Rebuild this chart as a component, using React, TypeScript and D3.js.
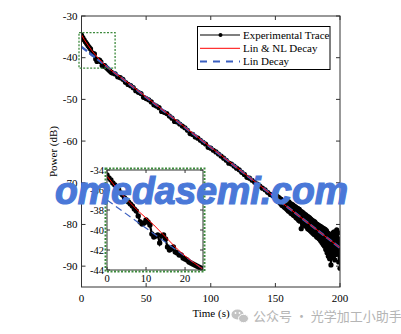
import React from "react";
import * as d3 from "d3";

// ---------- data ----------
const xTicks = [0, 50, 100, 150, 200];
const yTicks = [-30, -40, -50, -60, -70, -80, -90];
const insetXTicks = [0, 10, 20];
const insetYTicks = [-34, -36, -38, -40, -42, -44];
const legendLabels = ["Experimental Trace", "Lin & NL Decay", "Lin Decay"];

const tracePoints: [number, number][] = [
  [0, -34.6], [1, -35.2], [2, -35.7], [3, -36.2], [4, -36.6], [5, -37.1], [6, -37.5], [7, -37.9],
  [8, -38.8], [9, -39.1], [10, -39.1], [11, -40.3], [12, -40.9], [13, -40.5], [14, -40.6], [15, -41.0],
  [16, -41.9], [17, -42.0], [18, -41.9], [19, -42.3], [20, -42.6], [21, -42.9], [22, -43.2], [23, -43.5],
  [24, -43.7], [26, -43.9], [28, -44.6], [30, -44.8], [32, -45.2], [34, -45.9], [36, -46.4], [38, -46.7],
  [40, -47.2], [42, -47.9], [44, -48.3], [46, -48.6], [48, -49.5], [50, -49.8], [52, -50.1], [54, -50.6],
  [56, -51.3], [58, -51.6], [60, -52.0], [62, -52.9], [64, -53.1], [66, -53.4], [68, -54.0], [70, -54.5],
  [72, -55.3], [74, -55.4], [76, -55.9], [78, -56.4], [80, -56.8], [82, -57.4], [84, -58.2], [86, -58.4],
  [88, -59.0], [90, -59.3], [92, -59.8], [94, -60.3], [96, -60.7], [98, -61.5], [100, -61.7], [102, -62.2],
  [104, -62.6], [106, -63.1], [108, -63.6], [110, -64.1], [112, -64.6], [114, -65.3], [116, -65.5], [118, -66.0],
  [120, -66.5], [122, -66.9], [124, -67.5], [126, -68.0], [128, -68.7], [130, -68.9], [132, -69.4], [134, -69.9],
  [136, -70.3], [138, -70.8], [140, -71.3], [142, -71.7], [144, -72.3], [146, -72.8], [148, -73.1], [150, -73.7],
  [150.5, -73.0], [151, -74.2], [151.5, -73.3], [152, -74.5], [152.5, -73.5], [153, -74.6], [153.5, -73.8],
  [154, -75.0], [154.5, -74.0], [155, -75.4], [155.5, -74.2], [156, -75.6], [156.5, -74.4], [157, -75.9],
  [157.5, -74.7], [158, -76.1], [158.5, -74.9], [159, -76.4], [159.5, -75.1],
  [160, -76.8], [160.5, -74.6], [161, -76.9], [161.5, -75.0], [162, -77.3], [162.5, -75.1], [163, -77.5],
  [163.5, -75.3], [164, -77.8], [164.5, -75.6], [165, -78.0], [165.5, -75.8], [166, -78.4], [166.5, -76.0],
  [167, -78.6], [167.5, -76.2], [168, -79.0], [168.5, -76.4], [169, -79.2], [169.5, -76.8], [170, -81.0],
  [170.5, -77.0], [171, -79.6], [171.5, -77.2], [172, -80.0], [172.5, -77.5], [173, -80.3], [173.5, -77.7],
  [174, -80.5], [174.5, -78.0], [175, -81.0], [175.5, -78.2], [176, -81.2], [176.5, -78.4], [177, -81.5],
  [177.5, -78.7], [178, -81.8], [178.5, -79.0], [179, -82.1], [179.5, -79.2], [180, -82.4], [180.5, -79.4],
  [181, -82.6], [181.5, -79.8], [182, -83.0], [182.5, -80.0], [183, -83.2], [183.5, -80.2], [184, -83.5],
  [184.5, -80.4], [185, -83.9], [185.5, -80.6], [186, -84.3], [186.5, -80.8], [187, -84.8], [187.5, -81.0],
  [188, -85.2], [188.5, -81.2], [189, -86.0], [189.5, -81.5], [190, -86.8], [190.5, -82.0], [191, -87.6],
  [191.5, -82.3], [192, -88.2], [192.5, -83.0], [193, -89.7], [193.5, -82.6], [194, -88.0], [194.5, -82.0],
  [195, -87.0], [195.5, -81.8], [196, -88.5], [196.5, -82.5], [197, -87.2], [197.5, -81.3], [198, -86.5],
  [198.5, -82.0], [199, -89.0], [199.5, -83.5], [200, -90.5],
];

const linNlPoints: [number, number][] = [
  [0, -34.5], [2, -35.6], [5, -37.0], [8, -38.3], [12, -39.8], [16, -41.1], [20, -42.3], [25, -43.5],
  [30, -44.6], [40, -47.0], [200, -85.6],
];

const linPoints: [number, number][] = [
  [0, -37.4], [200, -85.6],
];

const insetTracePoints: [number, number][] = [
  [0, -34.5], [0.5, -34.8], [1, -35.0], [1.5, -35.3], [2, -35.5], [2.5, -35.8], [3, -36.0], [3.5, -36.3],
  [4, -36.5], [4.5, -36.8], [5, -37.0], [5.5, -37.2], [6, -37.4], [6.5, -37.6], [7, -37.9], [7.5, -38.1],
  [8, -38.6], [8.5, -39.2], [9, -39.4], [9.5, -39.3], [10, -39.0], [10.5, -39.2], [11, -39.5], [11.5, -40.4],
  [12, -40.7], [12.5, -40.6], [13, -40.5], [13.5, -41.3], [14, -40.6], [14.5, -40.5], [15, -40.9], [15.5, -41.7],
  [16, -42.0], [16.5, -41.9], [17, -41.7], [17.5, -42.2], [18, -42.3], [18.5, -42.5], [19, -42.5], [19.5, -42.8],
  [20, -42.9], [20.5, -43.0], [21, -43.2], [21.5, -43.3], [22, -43.4], [22.5, -43.5], [23, -43.6], [23.5, -43.7],
  [24, -43.8], [24.5, -43.9],
];

const insetLinNlPoints: [number, number][] = [
  [0, -34.6], [2, -35.6], [4, -36.5], [6, -37.3], [8, -38.1], [10, -38.8], [12, -39.5], [14, -40.3],
  [16, -41.1], [18, -41.9], [20, -42.6], [22, -43.2], [24.5, -43.9],
];

const insetLinPoints: [number, number][] = [
  [0, -37.0], [24.5, -43.9],
];

// ---------- component ----------
const SERIF = "'Liberation Serif', 'Times New Roman', serif";

export default function App() {
  const W = 401, H = 334;
  const x = d3.scaleLinear().domain([0, 200]).range([81.5, 340]);
  const y = d3.scaleLinear().domain([-30, -95]).range([16, 287]);

  const ix = d3.scaleLinear().domain([0, 24.6]).range([107, 203]);
  const iy = d3.scaleLinear().domain([-34, -44]).range([170, 270]);

  const line = d3.line<[number, number]>().x((d) => x(d[0])).y((d) => y(d[1]));
  const iline = d3.line<[number, number]>().x((d) => ix(d[0])).y((d) => iy(d[1]));

  const [x0, x1] = x.range();
  const [y0, y1] = y.range();
  const [ix0, ix1] = ix.range();
  const [iy0, iy1] = iy.range();

  const zoomBox = {
    xa: x(0) - 2.5, xb: x(26), ya: y(-34), yb: y(-42.5),
  };

  return (
    <svg width={W} height={H} style={{ position: "absolute", left: 0, top: 0, background: "#fff" }}>
      <rect x={0} y={0} width={W} height={H} fill="#fff" />
      <defs>
        <clipPath id="mainClip">
          <rect x={x0} y={y0} width={x1 - x0} height={y1 - y0} />
        </clipPath>
        <clipPath id="insetClip">
          <rect x={ix0} y={iy0} width={ix1 - ix0} height={iy1 - iy0} />
        </clipPath>
      </defs>

      {/* main series */}
      <g clipPath="url(#mainClip)">
        <path d={line(tracePoints) || ""} fill="none" stroke="#000" strokeWidth={2} />
        {tracePoints.map((d, i) => (
          <circle key={i} cx={x(d[0])} cy={y(d[1])} r={2.6} fill="#000" />
        ))}
        <path d={line(linPoints) || ""} fill="none" stroke="#3b5fc0" strokeWidth={2.4} strokeDasharray="7,3" />
        <path d={line(linNlPoints) || ""} fill="none" stroke="#ff0000" strokeWidth={1} />
      </g>

      {/* main frame */}
      <rect x={x0} y={y0} width={x1 - x0} height={y1 - y0} fill="none" stroke="#333" strokeWidth={1} />
      {xTicks.map((t) => (
        <g key={"xt" + t}>
          <line x1={x(t)} x2={x(t)} y1={y1} y2={y1 - 4} stroke="#333" />
          <line x1={x(t)} x2={x(t)} y1={y0} y2={y0 + 4} stroke="#333" />
          <text x={x(t)} y={y1 + 15} textAnchor="middle" fontFamily={SERIF} fontSize={11} fill="#000">{t}</text>
        </g>
      ))}
      {yTicks.map((t) => (
        <g key={"yt" + t}>
          <line x1={x0} x2={x0 + 4} y1={y(t)} y2={y(t)} stroke="#333" />
          <line x1={x1} x2={x1 - 4} y1={y(t)} y2={y(t)} stroke="#333" />
          <text x={x0 - 4} y={y(t) + 3.8} textAnchor="end" fontFamily={SERIF} fontSize={11} fill="#000">{t}</text>
        </g>
      ))}
      <text x={211} y={317} textAnchor="middle" fontFamily={SERIF} fontSize={11} fill="#000">Time (s)</text>
      <text transform={`translate(57,${(y0 + y1) / 2}) rotate(-90)`} textAnchor="middle" fontFamily={SERIF} fontSize={11} fill="#000">Power (dB)</text>

      {/* zoom box in main */}
      <rect x={zoomBox.xa} y={zoomBox.ya} width={zoomBox.xb - zoomBox.xa} height={zoomBox.yb - zoomBox.ya}
        fill="none" stroke="#3d8a3d" strokeWidth={1.3} strokeDasharray="2,1.5" />

      {/* legend */}
      <g>
        <rect x={197.5} y={26.5} width={132.5} height={43} fill="#fff" stroke="#000" strokeWidth={1} />
        {legendLabels.map((lab, i) => {
          const cy = 35 + i * 13.3;
          return (
            <g key={lab}>
              {i === 0 && (
                <>
                  <line x1={200} x2={240} y1={cy} y2={cy} stroke="#555" strokeWidth={1.5} />
                  <circle cx={220.5} cy={cy} r={2} fill="#000" />
                </>
              )}
              {i === 1 && <line x1={200} x2={240} y1={cy} y2={cy} stroke="#ff0000" strokeWidth={1} />}
              {i === 2 && <line x1={200} x2={240} y1={cy} y2={cy} stroke="#3b5fc0" strokeWidth={2} strokeDasharray="7,6" />}
              <text x={243} y={cy + 3.8} fontFamily={SERIF} fontSize={11} fill="#000">{lab}</text>
            </g>
          );
        })}
      </g>

      {/* inset */}
      <rect x={ix0} y={iy0} width={ix1 - ix0} height={iy1 - iy0} fill="#fff" />
      <g clipPath="url(#insetClip)">
        <path d={iline(insetTracePoints) || ""} fill="none" stroke="#000" strokeWidth={2.2} />
        {insetTracePoints.map((d, i) => (
          <circle key={i} cx={ix(d[0])} cy={iy(d[1])} r={2.7} fill="#000" />
        ))}
        <path d={iline(insetLinPoints) || ""} fill="none" stroke="#3b5fc0" strokeWidth={1.2} strokeDasharray="7,4" />
        <path d={iline(insetLinNlPoints) || ""} fill="none" stroke="#ff0000" strokeWidth={1} />
      </g>
      <rect x={ix0} y={iy0} width={ix1 - ix0} height={iy1 - iy0} fill="none" stroke="#333" strokeWidth={1} />
      {insetXTicks.map((t) => (
        <g key={"ixt" + t}>
          <line x1={ix(t)} x2={ix(t)} y1={iy1} y2={iy1 - 3} stroke="#333" />
          <line x1={ix(t)} x2={ix(t)} y1={iy0} y2={iy0 + 3} stroke="#333" />
          <text x={ix(t)} y={iy1 + 12} textAnchor="middle" fontFamily={SERIF} fontSize={10.5} fill="#000">{t}</text>
        </g>
      ))}
      {insetYTicks.map((t) => (
        <g key={"iyt" + t}>
          <line x1={ix0} x2={ix0 + 3} y1={iy(t)} y2={iy(t)} stroke="#333" />
          <line x1={ix1} x2={ix1 - 3} y1={iy(t)} y2={iy(t)} stroke="#333" />
          <text x={ix0 - 3} y={iy(t) + 3.6} textAnchor="end" fontFamily={SERIF} fontSize={10.5} fill="#000">{t}</text>
        </g>
      ))}
      <rect x={ix0 - 1.5} y={iy0 - 1.5} width={ix1 - ix0 + 3} height={iy1 - iy0 + 3}
        fill="none" stroke="#3d8a3d" strokeWidth={2} strokeDasharray="2,1.5" />

      {/* blue watermark */}
      <text x={55} y={204} fontFamily="'Liberation Sans', Arial, sans-serif" fontWeight="bold" fontStyle="italic"
        fontSize={38} fill="#4a78d8" stroke="#4a78d8" strokeWidth={1.2} textLength={293} lengthAdjust="spacingAndGlyphs">omedasemi.com</text>

      {/* gray footer watermark */}
      <g opacity={0.9}>
        <ellipse cx={237.5} cy={314.5} rx={6} ry={5} fill="#bdbdbd" />
        <ellipse cx={243.5} cy={318.5} rx={5} ry={4.2} fill="#bdbdbd" stroke="#fff" strokeWidth={1} />
        <circle cx={235.5} cy={313} r={0.9} fill="#fff" />
        <circle cx={239.5} cy={313} r={0.9} fill="#fff" />
      </g>
      <text x={253} y={321} fontFamily="'Noto Sans CJK SC', sans-serif" fontSize={13} fill="#b5b5b5">公众号 · 光学加工小助手</text>
    </svg>
  );
}
